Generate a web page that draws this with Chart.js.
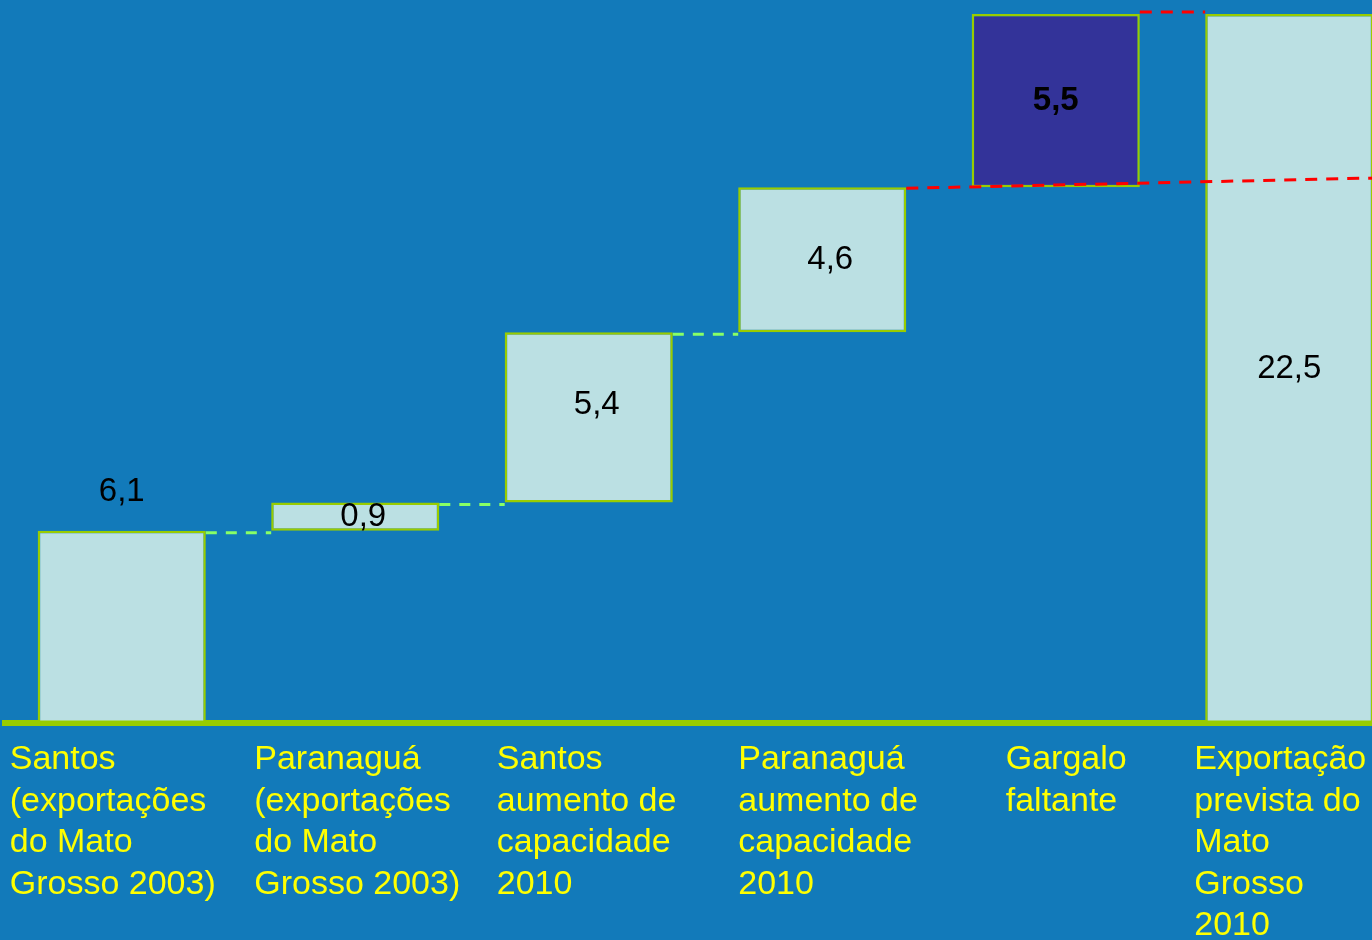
<!DOCTYPE html>
<html lang="pt-BR">
<head>
<meta charset="utf-8">
<title>Exportação prevista do Mato Grosso</title>
<script src="https://cdn.jsdelivr.net/npm/chart.js@4.4.1/dist/chart.umd.min.js"></script>
<style>
  html, body { margin: 0; padding: 0; background: #127ABA; overflow: hidden; }
  /* o gráfico original é cortado à direita, por isso a área é mais larga que a janela */
  #area { position: relative; width: 1410px; height: 940px; }
</style>
</head>
<body>
<div id="area"><canvas id="grafico"></canvas></div>
<script>
// --- DADOS ---
const categorias = [
    ['Santos', '(exportações', 'do Mato', 'Grosso 2003)'],
    ['Paranaguá', '(exportações', 'do Mato', 'Grosso 2003)'],
    ['Santos', 'aumento de', 'capacidade', '2010'],
    ['Paranaguá', 'aumento de', 'capacidade', '2010'],
    ['Gargalo', 'faltante'],
    ['Exportação', 'prevista do', 'Mato', 'Grosso', '2010']
];
const valores = [6.1, 0.9, 5.4, 4.6, 5.5, 22.5];
const rotulosValor = ['6,1', '0,9', '5,4', '4,6', '5,5', '22,5'];
const barraTotal = [true, false, false, false, false, true];

// monta as barras flutuantes (cascata) a partir dos valores
let acumulado = 0;
const faixas = valores.map((v, i) => {
    if (barraTotal[i]) {
        acumulado = v;
        return [0, v];
    }
    const faixa = [acumulado, +(acumulado + v).toFixed(2)];
    acumulado = faixa[1];
    return faixa;
});

const corClara = '#BBE0E3';
const corGargalo = '#333399';
const cores = valores.map((v, i) => i === 4 ? corGargalo : corClara);

// deslocamento horizontal dos rótulos de categoria (em px, relativo ao centro)
const deslocRotulo = [-112, -101, -92, -84, -50, -95];

function linha(ctx, x1, y1, x2, y2) {
    ctx.beginPath();
    ctx.moveTo(x1, y1);
    ctx.lineTo(x2, y2);
    ctx.stroke();
}

const desenhos = {
    id: 'desenhos',
    afterDatasetsDraw(chart) {
        const ctx = chart.ctx;
        const barras = chart.getDatasetMeta(0).data;
        const y = chart.scales.y;
        ctx.save();
        ctx.lineWidth = 3;

        // ligações verdes tracejadas
        ctx.setLineDash([11, 9]);
        ctx.strokeStyle = '#88FF66';
        for (let i = 0; i < 3; i++) {
            const a = barras[i], b = barras[i + 1];
            const yy = y.getPixelForValue(faixas[i][1]) + 2;
            linha(ctx, a.x + a.width / 2, yy, b.x - b.width / 2, yy);
        }

        // linhas vermelhas tracejadas
        ctx.strokeStyle = '#FF0000';
        ctx.setLineDash([12, 9]);
        const b3 = barras[3];
        const y17 = y.getPixelForValue(faixas[3][1]) + 1;
        linha(ctx, b3.x + b3.width / 2, y17, chart.chartArea.right, y17 - 11);
        const b4 = barras[4], b5 = barras[5];
        const yTopo = y.getPixelForValue(faixas[4][1]) - 2;
        linha(ctx, b4.x + b4.width / 2, yTopo, b5.x - b5.width / 2, yTopo);
        ctx.restore();

        // valores das barras
        ctx.save();
        ctx.fillStyle = '#000000';
        ctx.textAlign = 'center';
        ctx.textBaseline = 'middle';
        barras.forEach((bar, i) => {
            ctx.font = (i === 4 ? 'bold ' : '') + '33px "Liberation Sans", Arial, sans-serif';
            let yy = i === 0 ? bar.y - 39 : (bar.y + bar.base) / 2;
            if (i === 2) yy -= 12;
            const xx = (i >= 1 && i <= 3) ? bar.x + 8 : bar.x;
            ctx.fillText(rotulosValor[i], xx, yy);
        });
        ctx.restore();
    },
    afterDraw(chart) {
        // rótulos das categorias (amarelos, alinhados à esquerda)
        const ctx = chart.ctx;
        const x = chart.scales.x;
        ctx.save();
        ctx.fillStyle = '#FFFF00';
        ctx.font = '34px "Liberation Sans", Arial, sans-serif';
        ctx.textAlign = 'left';
        ctx.textBaseline = 'middle';
        categorias.forEach((linhas, i) => {
            const px = x.getPixelForValue(i) + deslocRotulo[i];
            linhas.forEach((t, j) => {
                ctx.fillText(t, px, chart.chartArea.bottom + 37 + j * 41.5);
            });
        });
        ctx.restore();
    }
};

new Chart(document.getElementById('grafico'), {
    type: 'bar',
    data: {
        labels: categorias.map(c => c.join(' ')),
        datasets: [{
            data: faixas,
            backgroundColor: cores,
            borderColor: '#99CC00',
            borderWidth: 2.5,
            borderSkipped: false,
            barPercentage: 0.72,
            categoryPercentage: 1
        }]
    },
    options: {
        responsive: true,
        maintainAspectRatio: false,
        animation: false,
        layout: { padding: { left: 5, right: 4, top: 14, bottom: 209 } },
        scales: {
            x: {
                grid: { display: false },
                ticks: { display: false },
                border: { color: '#99CC00', width: 6 }
            },
            y: {
                display: false,
                min: 0,
                max: 22.5
            }
        },
        plugins: {
            legend: { display: false },
            tooltip: { enabled: false }
        }
    },
    plugins: [desenhos]
});
</script>
</body>
</html>
